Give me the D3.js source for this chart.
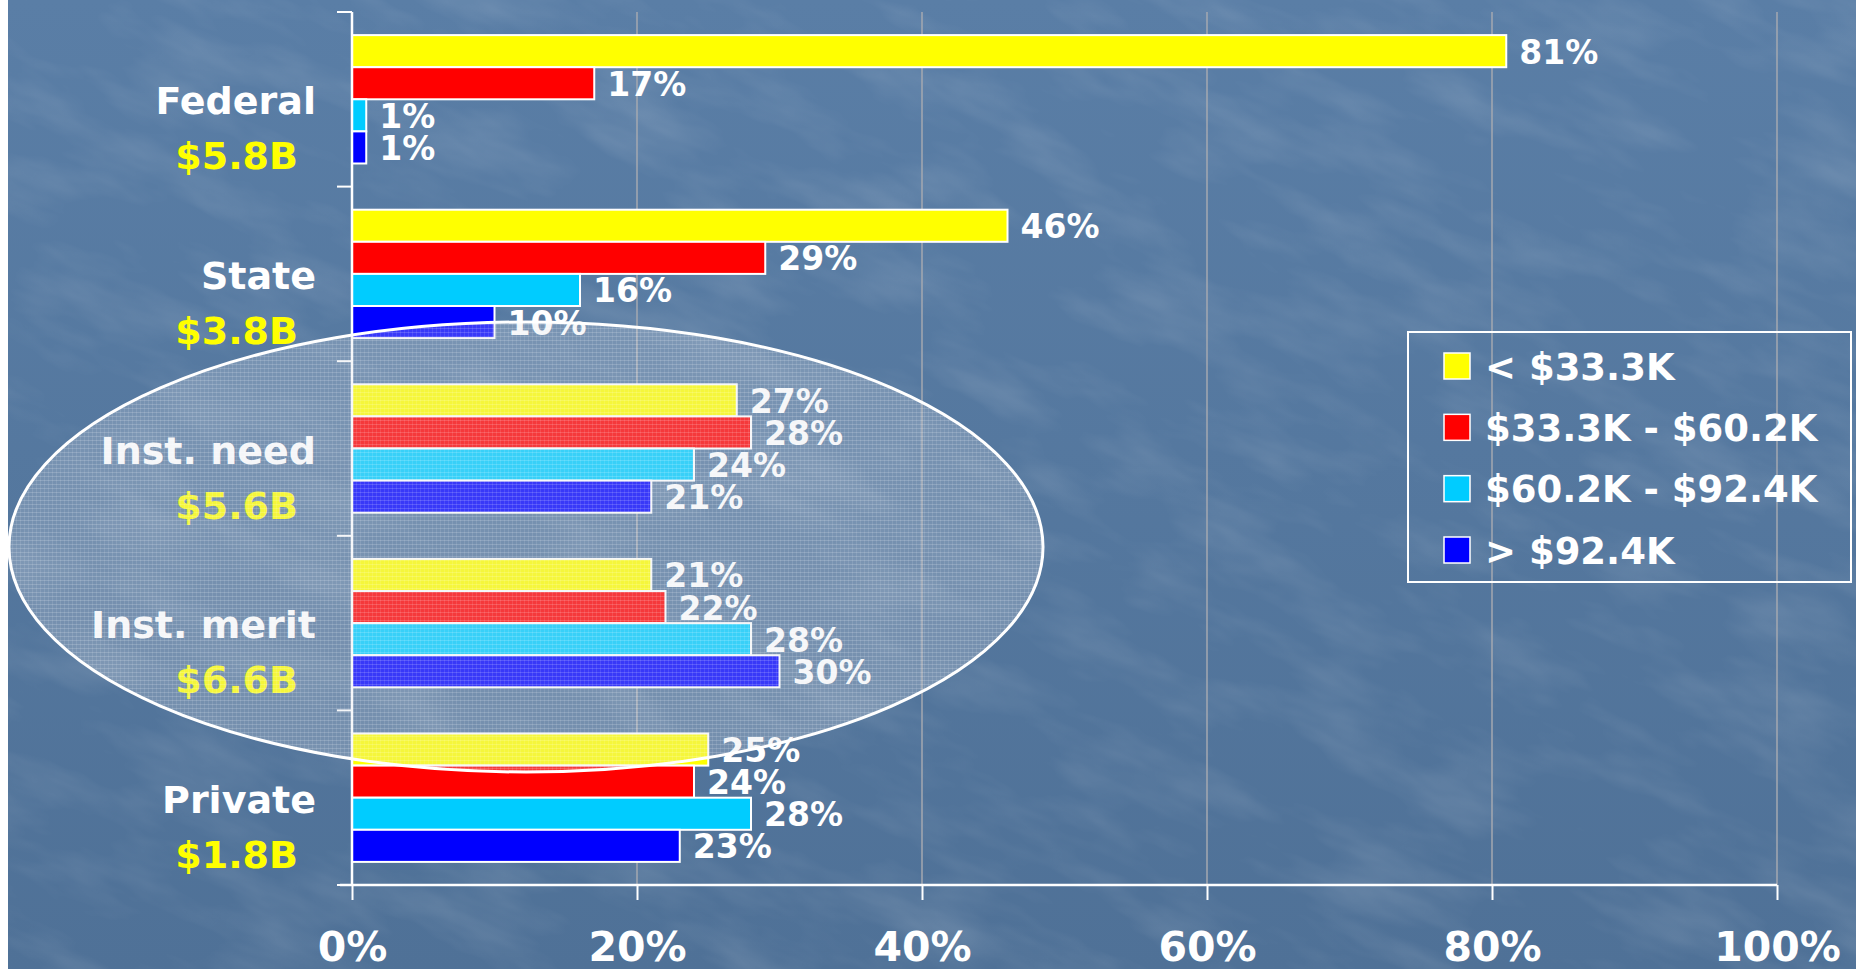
<!DOCTYPE html>
<html>
<head>
<meta charset="utf-8">
<script src="https://cdn.jsdelivr.net/npm/d3@7"></script>
<style>
  html, body { margin: 0; padding: 0; background: #fff; }
  svg { display: block; }
</style>
</head>
<body>
<svg id="chart" width="1856" height="969"></svg>
<script>
// ---- data ----
const categories = ["Federal", "State", "Inst. need", "Inst. merit", "Private"];
const amounts = ["$5.8B", "$3.8B", "$5.6B", "$6.6B", "$1.8B"];
const seriesNames = ["< $33.3K", "$33.3K - $60.2K", "$60.2K - $92.4K", "> $92.4K"];
const seriesColors = ["#ffff00", "#ff0000", "#00ccff", "#0000ff"];
// share of each category going to each income group (%)
const values = [
  [81, 17, 1, 1],
  [46, 29, 16, 10],
  [27, 28, 24, 21],
  [21, 22, 28, 30],
  [25, 24, 28, 23]
];
const xTicks = [0, 20, 40, 60, 80, 100];

const svg = d3.select("#chart");
const W = 1856, H = 969;
const FONT = "'DejaVu Sans', Verdana, sans-serif";

// ---- background ----
const defs = svg.append("defs");
const bgGrad = defs.append("linearGradient").attr("id", "bg").attr("x1", 0).attr("y1", 0).attr("x2", 0).attr("y2", 1);
bgGrad.append("stop").attr("offset", "0%").attr("stop-color", "#5a7ea6");
bgGrad.append("stop").attr("offset", "100%").attr("stop-color", "#4f7197");

const tex = defs.append("filter").attr("id", "tex").attr("x", 0).attr("y", 0).attr("width", "100%").attr("height", "100%");
tex.append("feTurbulence").attr("type", "fractalNoise").attr("baseFrequency", "0.022 0.007").attr("numOctaves", 4).attr("seed", 11);
tex.append("feColorMatrix").attr("type", "matrix")
  .attr("values", "0 0 0 0 1  0 0 0 0 1  0 0 0 0 1  1.5 0 0 0 -0.66");

// fine hatching for the ellipse highlight
const pat = defs.append("pattern").attr("id", "hatch").attr("width", 4).attr("height", 4).attr("patternUnits", "userSpaceOnUse");
pat.append("rect").attr("width", 4).attr("height", 4).attr("fill", "#d8dde4").attr("fill-opacity", 0.26);
pat.append("rect").attr("width", 4).attr("height", 1).attr("fill", "#ffffff").attr("fill-opacity", 0.16);
pat.append("rect").attr("width", 1).attr("height", 4).attr("fill", "#ffffff").attr("fill-opacity", 0.1);

svg.append("rect").attr("x", 8).attr("y", 0).attr("width", W - 8).attr("height", H).attr("fill", "url(#bg)");
svg.append("clipPath").attr("id", "bgclip").append("rect").attr("x", 8).attr("y", 0).attr("width", W - 8).attr("height", H);
svg.append("g").attr("clip-path", "url(#bgclip)")
  .append("g").attr("transform", "rotate(-68 928 484)")
  .append("rect").attr("x", -600).attr("y", -600).attr("width", W + 1200).attr("height", H + 1200)
  .attr("filter", "url(#tex)").attr("opacity", 0.16);

// ---- scales ----
const x = d3.scaleLinear().domain([0, 100]).range([352, 1777]);
const y = d3.scaleBand().domain(categories).range([12, 885]).padding(0);
const yInner = d3.scaleBand().domain(d3.range(seriesNames.length)).range([0, y.bandwidth()])
  .paddingInner(0).paddingOuter(0.72);

const g = svg.append("g");

// gridlines
g.selectAll(".grid").data(xTicks.slice(1)).enter().append("line")
  .attr("x1", d => x(d)).attr("x2", d => x(d))
  .attr("y1", 12).attr("y2", 885)
  .attr("stroke", "#a4a9b0").attr("stroke-width", 1.5);

// bars
const groups = g.selectAll(".cat").data(categories).enter().append("g")
  .attr("transform", d => `translate(0,${y(d)})`);

groups.each(function (cat, ci) {
  const sel = d3.select(this);
  sel.selectAll("rect").data(values[ci]).enter().append("rect")
    .attr("x", x(0))
    .attr("y", (d, i) => yInner(i))
    .attr("width", d => x(d) - x(0))
    .attr("height", yInner.bandwidth())
    .attr("fill", (d, i) => seriesColors[i])
    .attr("stroke", "#ffffff").attr("stroke-width", 2);
  sel.selectAll("text").data(values[ci]).enter().append("text")
    .attr("x", d => x(d) + 13)
    .attr("y", (d, i) => yInner(i) + yInner.bandwidth() / 2 + 1)
    .attr("dominant-baseline", "central")
    .attr("font-family", FONT).attr("font-weight", "bold").attr("font-size", 33)
    .attr("fill", "#ffffff")
    .text(d => d + "%");
});

// axes
const xAxis = d3.axisBottom(x).tickValues(xTicks).tickSize(15).tickFormat(d => d + "%");
const ax = svg.append("g").attr("transform", "translate(0,885)").call(xAxis);
ax.select(".domain").attr("stroke", "#ffffff").attr("stroke-width", 2.5).attr("d", `M${x(0) - 12},0H${x(100)}`);
ax.selectAll(".tick line").attr("stroke", "#ffffff").attr("stroke-width", 2);
ax.selectAll(".tick text")
  .attr("y", 76).attr("dy", 0)
  .attr("font-family", FONT).attr("font-weight", "bold").attr("font-size", 41)
  .attr("fill", "#ffffff");

const yAxisG = svg.append("g");
yAxisG.append("line").attr("x1", x(0)).attr("x2", x(0)).attr("y1", 12).attr("y2", 885)
  .attr("stroke", "#ffffff").attr("stroke-width", 2.5);
const boundaries = categories.map(c => y(c)).concat([y.range()[1]]);
yAxisG.selectAll(".ytick").data(boundaries).enter().append("line")
  .attr("x1", x(0) - 15).attr("x2", x(0))
  .attr("y1", d => d).attr("y2", d => d)
  .attr("stroke", "#ffffff").attr("stroke-width", 2);

// category labels
const lab = svg.append("g");
lab.selectAll(".name").data(categories).enter().append("text")
  .attr("x", 316).attr("y", d => y(d) + y.bandwidth() / 2 + 15)
  .attr("text-anchor", "end")
  .attr("font-family", FONT).attr("font-weight", "bold").attr("font-size", 38)
  .attr("fill", "#ffffff").text(d => d);
lab.selectAll(".amt").data(amounts).enter().append("text")
  .attr("x", 298).attr("y", (d, i) => y(categories[i]) + y.bandwidth() / 2 + 70)
  .attr("text-anchor", "end")
  .attr("font-family", FONT).attr("font-weight", "bold").attr("font-size", 38)
  .attr("fill", "#ffff00").text(d => d);

// highlight ellipse over the institutional rows
svg.append("ellipse")
  .attr("cx", 526).attr("cy", 547).attr("rx", 517).attr("ry", 225)
  .attr("fill", "url(#hatch)")
  .attr("stroke", "#ffffff").attr("stroke-width", 3);

// legend
const leg = svg.append("g");
leg.append("rect").attr("x", 1408).attr("y", 332).attr("width", 443).attr("height", 250)
  .attr("fill", "none").attr("stroke", "#ffffff").attr("stroke-width", 2);
const rowY = d3.scalePoint().domain(d3.range(seriesNames.length)).range([366, 550]);
const items = leg.selectAll(".item").data(seriesNames).enter().append("g")
  .attr("transform", (d, i) => `translate(0,${rowY(i)})`);
items.append("rect").attr("x", 1444).attr("y", -13).attr("width", 26).attr("height", 26)
  .attr("fill", (d, i) => seriesColors[i]).attr("stroke", "#ffffff").attr("stroke-width", 1.5);
items.append("text").attr("x", 1485).attr("y", 1)
  .attr("dominant-baseline", "central")
  .attr("font-family", FONT).attr("font-weight", "bold").attr("font-size", 37)
  .attr("fill", "#ffffff").text(d => d);
</script>
</body>
</html>
